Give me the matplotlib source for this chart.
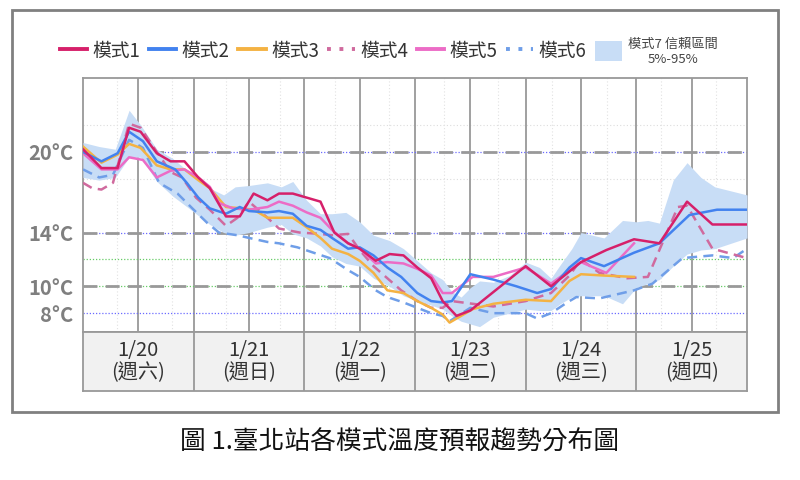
import numpy as np
import matplotlib
matplotlib.use("Agg")
import matplotlib.pyplot as plt
from matplotlib.lines import Line2D
from matplotlib.patches import Patch, Rectangle

plt.rcParams['font.family'] = ['Noto Sans CJK TC', 'DejaVu Sans']

# ---- datos (horas desde 1/20 00:00, °C) ----
m1_h = [0, 4, 7.5, 10, 12.5, 16, 19, 22, 25, 27.5, 31, 34, 37, 40, 42.5, 45.5, 48.5, 51.5, 54.5,
        57.5, 60, 63.5, 66.5, 69.5, 72.5, 75.5, 78, 81, 84, 96, 101.5, 108, 113.5, 119.5, 125, 131, 136.5, 144]
m1_t = [20.2, 18.8, 18.8, 21.8, 21.5, 19.9, 19.3, 19.3, 18.1, 17.3, 15.2, 15.2, 16.9, 16.4, 16.9, 16.9, 16.6, 16.3, 14.0,
        13.2, 12.8, 11.9, 12.4, 12.3, 11.4, 10.6, 8.9, 7.8, 8.2, 11.5, 10.0, 11.8, 12.7, 13.5, 13.2, 16.3, 14.6, 14.6]

m2_h = [0, 4, 7.5, 10, 13, 16, 20, 22.5, 25, 27.5, 31, 34, 36, 40, 42.5, 45.5, 48.5, 51.5, 54, 57.5, 60, 63, 66,
        69, 72.5, 75.5, 78, 80, 84, 89, 94, 98.5, 101.5, 105.5, 108, 113, 119.5, 125, 131.5, 137.5, 144]
m2_t = [20.0, 19.3, 19.9, 21.5, 20.8, 19.3, 18.7, 17.7, 16.6, 15.8, 15.4, 15.9, 15.6, 15.5, 15.6, 15.4, 14.5, 14.2, 13.6,
        12.8, 12.9, 12.3, 11.4, 10.7, 9.5, 8.9, 8.8, 8.9, 10.9, 10.5, 10.0, 9.5, 9.8, 11.4, 12.1, 11.5, 12.5, 13.2, 15.3,
        15.7, 15.7]

m3_h = [0, 4, 7.5, 10, 12.5, 16, 19, 22, 25, 27.5, 31, 34.5, 37, 40, 42.5, 45.5, 48.5, 51.5, 54, 57.5, 60, 63, 66,
        69.5, 72.5, 75.5, 78, 79.5, 84.5, 89, 96, 101.5, 105.5, 108, 113, 119.5]
m3_t = [20.4, 19.2, 19.8, 20.6, 20.3, 19.0, 18.7, 18.7, 17.9, 17.3, 15.9, 15.8, 15.7, 15.1, 15.1, 15.1, 14.4, 13.6, 12.8,
        12.4, 11.9, 11.0, 9.7, 9.5, 8.9, 8.4, 7.9, 7.3, 8.3, 8.7, 9.0, 8.9, 10.4, 10.9, 10.8, 10.7]

m4_h = [0, 2, 4, 6.5, 10, 12.5, 16, 19, 21.5, 24.5, 27.5, 31, 33.5, 36, 40, 42.5, 47, 51.5, 54, 57.5, 60, 63, 66, 69,
        72.5, 75.5, 78, 80, 84.5, 89, 96, 101.5, 105.5, 108, 112, 118, 122.5, 125, 129, 131, 136.5, 144]
m4_t = [17.7, 17.3, 17.2, 17.7, 22.1, 21.8, 20.0, 18.5, 18.1, 16.6, 15.7, 14.5, 15.1, 16.3, 15.1, 14.3, 14.0, 13.9,
        13.8, 13.9, 12.7, 11.5, 10.6, 9.7, 8.9, 8.4, 8.4, 8.9, 8.7, 8.5, 8.9, 9.5, 10.8, 12.0, 11.0, 10.6, 10.7, 12.7,
        15.9, 16.0, 12.8, 12.1]

m5_h = [0, 4, 7.5, 10, 13, 16, 19, 22, 25, 27.5, 29.5, 32.5, 36, 40, 42.5, 45.5, 48.5, 51.5, 54, 57.5, 60, 63.5, 66,
        69.5, 72.5, 75.5, 78, 80, 84.5, 89, 96, 101.5, 108, 113.5, 119.5]
m5_t = [19.9, 18.7, 18.7, 19.6, 19.4, 18.1, 18.6, 18.7, 18.1, 17.4, 16.2, 15.8, 15.7, 15.9, 16.3, 16.0, 15.5, 15.1, 14.2,
        13.2, 12.8, 11.7, 11.8, 11.7, 11.3, 10.8, 9.5, 9.5, 10.7, 10.7, 11.4, 10.2, 11.8, 11.0, 13.2]

m6_h = [0, 3.5, 6.5, 10, 13, 16.5, 20.5, 24, 27, 29.5, 33.5, 36, 40, 42.5, 46.5, 50, 53.5, 57.5, 60, 63.5, 66, 69.5,
        72.5, 75.5, 78, 79.5, 84, 89, 96, 98.5, 101.5, 105, 107, 112, 119.5, 123.5, 130, 136.5, 141, 144]
m6_t = [18.7, 18.1, 18.3, 20.9, 20.3, 17.7, 16.9, 15.7, 14.7, 14.0, 13.8, 13.6, 13.3, 13.2, 12.9, 12.5, 12.1, 11.2, 10.7,
        9.7, 9.2, 8.8, 8.4, 8.0, 7.8, 7.4, 8.4, 8.0, 8.0, 7.6, 8.0, 8.8, 9.2, 9.1, 9.7, 10.2, 12.1, 12.3, 12.1, 12.8]

band_h = [0, 3.5, 7, 10, 12.5, 16, 19.5, 23, 27.5, 30.5, 33, 36, 40, 43, 45.5, 48.5, 51.5, 54, 57, 60, 63, 66.5, 69.5,
          72.5, 75.5, 78, 80, 82, 84, 86, 89, 92.5, 96, 99, 101.5, 103.5, 106, 108, 113, 117, 120, 122.5, 125, 128,
          131, 134, 137, 144]
band_hi = [20.7, 20.4, 20.2, 23.1, 22.0, 20.2, 19.5, 18.5, 17.3, 16.8, 17.4, 17.5, 17.7, 17.4, 17.8, 16.4, 15.4, 15.4,
           15.5, 14.8, 13.8, 13.4, 12.8, 11.9, 11.0, 10.5, 9.6, 9.2, 9.9, 10.4, 10.3, 10.8, 11.8, 11.4, 10.6, 11.6, 12.8,
           14.0, 13.6, 14.9, 14.8, 14.9, 14.7, 17.9, 19.2, 18.1, 17.4, 16.8]
band_lo = [18.1, 17.9, 18.1, 19.6, 19.6, 17.8, 16.7, 15.8, 14.6, 14.0, 13.8, 14.0, 14.4, 14.6, 13.9, 13.6, 13.0, 12.2,
           11.7, 11.5, 10.6, 10.0, 9.3, 8.9, 8.6, 8.3, 7.8, 7.4, 7.2, 7.0, 7.7, 8.0, 8.3, 8.2, 8.2, 8.7, 9.2, 9.3, 9.3,
           8.7, 9.9, 10.2, 10.5, 11.5, 12.4, 12.7, 12.8, 13.6]

dias = ["1/20", "1/21", "1/22", "1/23", "1/24", "1/25"]
semana = ["(週六)", "(週日)", "(週一)", "(週二)", "(週三)", "(週四)"]
yticks = [8, 10, 14, 20]

c1, c2, c3 = '#d6206a', '#4282ef', '#f4b243'
c4, c5, c6 = '#d06a9e', '#ec6cc6', '#6f9ee8'
cband = '#c8ddf6'

fig = plt.figure(figsize=(8, 4.8), dpi=100)
ax = fig.add_axes([83/800, 1-332/480, 664/800, 254/480])
axd = fig.add_axes([83/800, 1-391/480, 664/800, 59/480])

# marco exterior
fig.patches.append(Rectangle((12/800, 1-412/480), 766/800, 402/480, transform=fig.transFigure,
                             fill=False, edgecolor='#808080', linewidth=2))

# cuadrícula
for y in [18, 22]:
    ax.axhline(y, color='#dddddd', lw=0.8, ls=(0, (1, 2)), zorder=0)
for x in np.arange(7.4, 144, 11.8):
    ax.axvline(x, color='#e2e2e2', lw=0.8, ls=(0, (1, 2)), zorder=0)
for x in range(12, 144, 12):
    ax.axvline(x, color='#999999', lw=1.3, zorder=1)
for y in [20, 14, 8]:
    ax.axhline(y, color='#6b6bff', lw=0.9, ls=(0, (1, 1.5)), zorder=1)
for y in [12, 10]:
    ax.axhline(y, color='#66cc66', lw=0.9, ls=(0, (1, 1.5)), zorder=1)
for y in [20, 14, 10]:
    ax.axhline(y, color='#999999', lw=2, ls=(0, (5, 3)), zorder=2)

# banda y series
ax.fill_between(band_h, band_lo, band_hi, color=cband, lw=0, zorder=3)
ax.plot(m6_h, m6_t, color=c6, lw=1.8, ls=(0, (4, 2.5)), zorder=4)
ax.plot(m4_h, m4_t, color=c4, lw=1.8, ls=(0, (4, 2.5)), zorder=4)
ax.plot(m3_h, m3_t, color=c3, lw=1.8, zorder=5)
ax.plot(m5_h, m5_t, color=c5, lw=1.8, zorder=5)
ax.plot(m2_h, m2_t, color=c2, lw=1.8, zorder=6)
ax.plot(m1_h, m1_t, color=c1, lw=1.8, zorder=7)

ax.set_xlim(0, 144)
ax.set_ylim(6.6, 25.5)
ax.set_xticks([])
ax.set_yticks(yticks)
ax.set_yticklabels([f"{v}°C" for v in yticks], fontsize=14.5, fontweight='bold', color='#7f7f7f')
ax.tick_params(axis='y', length=0, pad=7)
for s in ax.spines.values():
    s.set_color('#999999')
    s.set_linewidth(1.3)

# celdas de fechas
axd.set_facecolor('#f1f1f1')
axd.set_xlim(0, 144)
axd.set_ylim(0, 1)
axd.set_xticks([])
axd.set_yticks([])
for s in axd.spines.values():
    s.set_color('#999999')
    s.set_linewidth(1.3)
for i in range(6):
    if i > 0:
        axd.axvline(24 * i, color='#999999', lw=1.3)
    axd.text(24 * i + 12, 0.5, dias[i] + "\n" + semana[i], ha='center', va='center',
             fontsize=14.5, color='#333333', linespacing=1.05)

# leyenda
handles = [Line2D([], [], color=c1, lw=2.8),
           Line2D([], [], color=c2, lw=2.8),
           Line2D([], [], color=c3, lw=2.8),
           Line2D([], [], color=c4, lw=2.8, ls=(0, (1, 2.2))),
           Line2D([], [], color=c5, lw=2.8),
           Line2D([], [], color=c6, lw=2.8, ls=(0, (1, 2.2))),
           Patch(facecolor=cband, edgecolor='none')]
labels = ["模式1", "模式2", "模式3", "模式4", "模式5", "模式6", "模式7 信賴區間\n5%-95%"]
leg = fig.legend(handles, labels, loc='center', bbox_to_anchor=(0.486, 1-52/480), ncol=7, frameon=False,
                 fontsize=13.5, handlelength=1.45, handletextpad=0.3, columnspacing=0.45, handleheight=1.3)
leg.get_texts()[6].set_fontsize(9.5)
leg.get_texts()[6].set_multialignment('center')
leg.get_texts()[6].set_color('#444444')
for t in leg.get_texts()[:6]:
    t.set_color('#333333')

fig.text(0.5, 1-443/480, "圖 1.臺北站各模式溫度預報趨勢分布圖", ha='center', va='center',
         fontsize=18.5, color='#111111')

fig.savefig("out.png", dpi=100)
